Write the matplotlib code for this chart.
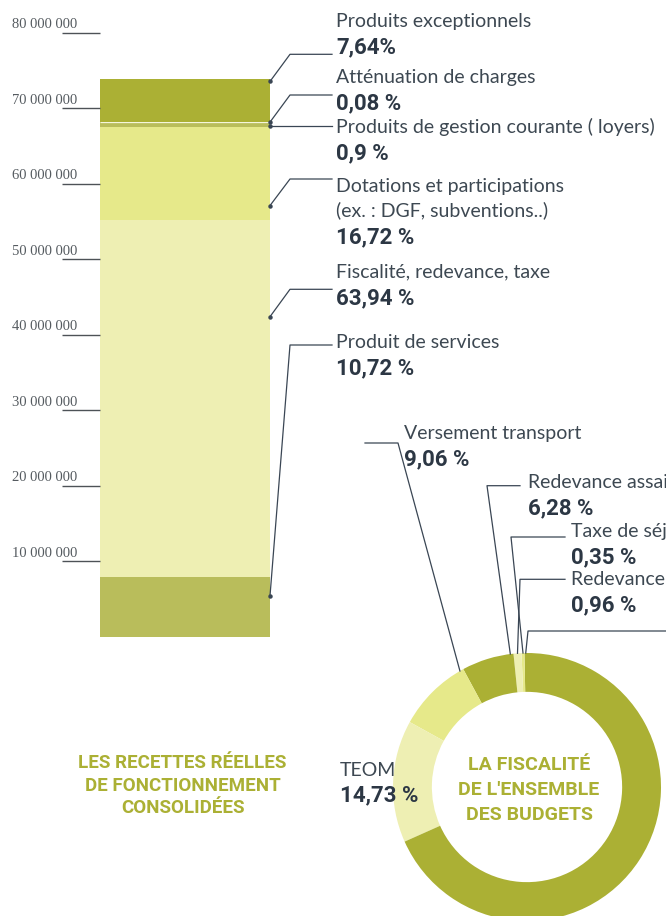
import numpy as np
import matplotlib.pyplot as plt
from matplotlib.lines import Line2D

# ===== DATA =====
# recettes réelles de fonctionnement, bar stacked from bottom to top
bar_names = [["Produit de services"],
             ["Fiscalité, redevance, taxe"],
             ["Dotations et participations", "(ex. : DGF, subventions..)"],
             ["Produits de gestion courante ( loyers)"],
             ["Atténuation de charges"],
             ["Produits exceptionnels"]]
bar_values = [7_910_000, 47_190_000, 12_340_000, 660_000, 60_000, 5_640_000]
bar_pct = ["10,72 %", "63,94 %", "16,72 %", "0,9 %", "0,08 %", "7,64%"]

y_ticks = [10e6, 20e6, 30e6, 40e6, 50e6, 60e6, 70e6, 80e6]
y_ticklabels = ["10 000 000", "20 000 000", "30 000 000", "40 000 000",
                "50 000 000", "60 000 000", "70 000 000", "80 000 000"]

# fiscalité de l'ensemble des budgets, counter-clockwise from 12 o'clock
donut_names = ["Autres", "Taxe de séjour", "Redevance spéciale",
               "Redevance assainissement", "Versement transport", "TEOM",
               "Impôts et taxes"]
donut_values = [0.30, 0.35, 0.96, 6.28, 9.06, 14.73, 68.32]
donut_pct = ["", "0,35 %", "0,96 %", "6,28 %", "9,06 %", "14,73 %", ""]

# ===== STYLE =====
W, H = 666, 916
OLIVE = "#ABB034"
BRIGHT = "#E6E98A"
PALE = "#EEEFB3"
MID = "#B9BD5B"
bar_colors = [MID, PALE, BRIGHT, MID, "#F5F6DC", OLIVE]
donut_colors = [OLIVE, BRIGHT, PALE, OLIVE, BRIGHT, PALE, OLIVE]

TXT = "#3d4852"
TXT_B = "#2c3744"
LINE = "#3a4654"
REG = ["Lato", "DejaVu Sans"]
BOLD = ["Roboto", "DejaVu Sans"]
REG_SIZE = 14
PCT_SIZE = 16


def px(x, y):
    # pixel from top-left -> figure fraction
    return x / W, 1 - y / H


fig = plt.figure(figsize=(W / 100, H / 100), dpi=100)

# ===== BAR =====
ax = fig.add_axes([100 / W, 1 - 636.5 / H, 170 / W, 604 / H])
bottoms = []
b = 0
for v, c in zip(bar_values, bar_colors):
    # the tiny segment gets a thin edge so it shows as a pale line
    lw = 0.9 if v < 100_000 else 0
    ax.bar(0, v, bottom=b, width=1, color=c, edgecolor=c, linewidth=lw)
    bottoms.append(b)
    b += v
ax.set_xlim(-0.5, 0.5)
ax.set_ylim(0, 80e6)
ax.set_xticks([])
ax.set_yticks(y_ticks)
ax.tick_params(axis="y", length=27.4, width=1.0, color="#4d5257", labelleft=False)
for s in ax.spines.values():
    s.set_visible(False)
for v, lbl in zip(y_ticks, y_ticklabels):
    ax.annotate(lbl, xy=(0, v), xycoords=("axes fraction", "data"),
                xytext=(-63.4, 3), textcoords="offset points",
                ha="left", va="baseline", family="Liberation Serif",
                fontsize=10.5, color="#555b60")

# leader layout (pixels from top-left)
bar_anchor_frac = [0.68, 0.73, 0.16, 0.3, 0.5, 0.95]
bar_elbow_y = [345, 289.3, 179, None, 95, 54.3]
bar_name_y = [348.3, 277.7, 191.7, 133, 83, 27]

to_fig = fig.transFigure.inverted()
for i in range(len(bar_values)):
    yv = bottoms[i] + bar_anchor_frac[i] * bar_values[i]
    ax_x, ax_y = to_fig.transform(ax.transData.transform((0.5, yv)))
    if bar_elbow_y[i] is None:
        ex, ey = ax_x + 20 / W, ax_y
    else:
        ex, ey = px(290, bar_elbow_y[i])
    hx, _ = px(332, 0)
    fig.add_artist(Line2D([ax_x, ex, hx], [ax_y, ey, ey], color=LINE, lw=0.9))
    fig.add_artist(Line2D([ax_x], [ax_y], marker="o", ms=2.2, color=LINE, lw=0))
    y = bar_name_y[i]
    for line in bar_names[i]:
        fig.text(*px(336, y), line, family=REG, fontsize=REG_SIZE, color=TXT,
                 va="baseline")
        y += 24.8
    fig.text(*px(336, y - 24.8 + 26.5), bar_pct[i], family=BOLD, weight="bold",
             fontsize=PCT_SIZE, color=TXT_B, va="baseline")

for k, t in enumerate(["LES RECETTES RÉELLES", "DE FONCTIONNEMENT", "CONSOLIDÉES"]):
    fig.text(*px(182.5, 768 + 22.7 * k), t, family=BOLD, weight="bold",
             fontsize=13.5, color=OLIVE, ha="center", va="baseline")

# ===== DONUT =====
ax2 = fig.add_axes([393 / W, 1 - 921 / H, 268 / W, 268 / H])
wedges, _ = ax2.pie(donut_values, colors=donut_colors, startangle=90,
                    counterclock=True, radius=1,
                    wedgeprops=dict(width=0.29, linewidth=0))
ax2.set_xlim(-1, 1)
ax2.set_ylim(-1, 1)

donut_anchor_frac = [0.5, 0.5, 0.5, 0.06, 0.05, None, None]
# (elbow x, horizontal y, horizontal end x, text x, name baseline)
donut_leader = [(528, 631, W + 5, None, None),
                (511, 537, 565, 570.7, 537),
                (520, 579.3, 565, 570.7, 585),
                (487, 485.7, 520, 528, 488),
                (398, 443, 365, 404, 439),
                None, None]

for i, w in enumerate(wedges):
    lead = donut_leader[i]
    if lead is None:
        continue
    th = np.deg2rad(w.theta1 + donut_anchor_frac[i] * (w.theta2 - w.theta1))
    axx, axy = to_fig.transform(ax2.transData.transform((np.cos(th), np.sin(th))))
    ex, ey = px(lead[0], lead[1])
    hx, _ = px(lead[2], 0)
    fig.add_artist(Line2D([axx, ex, hx], [axy, ey, ey], color=LINE, lw=0.9))
    if lead[3] is None:
        continue
    fig.text(*px(lead[3], lead[4]), donut_names[i], family=REG, fontsize=REG_SIZE,
             color=TXT, va="baseline")
    fig.text(*px(lead[3], lead[4] + 26.8), donut_pct[i], family=BOLD,
             weight="bold", fontsize=PCT_SIZE, color=TXT_B, va="baseline")

# TEOM label, no leader
fig.text(*px(340, 776), donut_names[5], family=REG, fontsize=REG_SIZE, color=TXT,
         va="baseline")
fig.text(*px(340, 801), donut_pct[5], family=BOLD, weight="bold",
         fontsize=PCT_SIZE, color=TXT_B, va="baseline")

for k, t in enumerate(["LA FISCALITÉ", "DE L'ENSEMBLE", "DES BUDGETS"]):
    fig.text(*px(529, 770 + 25 * k), t, family=BOLD, weight="bold",
             fontsize=14, color=OLIVE, ha="center", va="baseline")

fig.savefig("out.png", dpi=100)
